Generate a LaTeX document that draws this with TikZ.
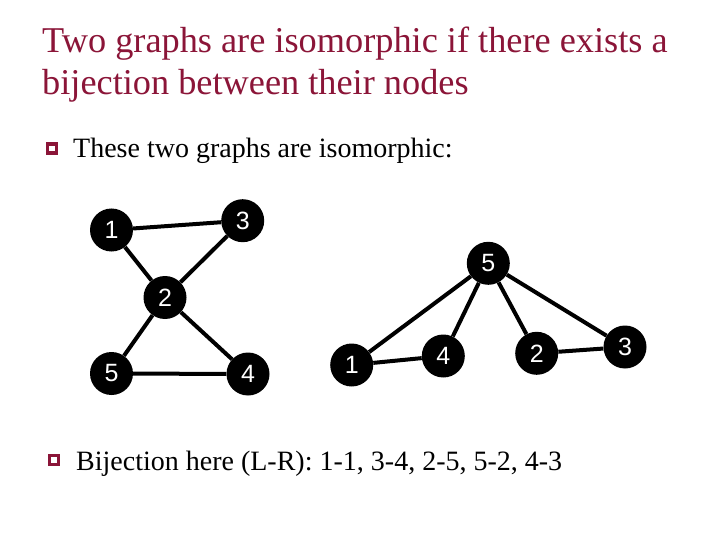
\documentclass[tikz,border=0pt]{standalone}
\usepackage{fontspec}
\setmainfont{Liberation Serif}
\newfontfamily\arialfont{Liberation Sans}
\usetikzlibrary{positioning}
\definecolor{titlered}{HTML}{8B1538}
\tikzset{
  vertex/.style={
    circle,
    fill=black,
    text=white,
    minimum size=43pt,
    inner sep=0pt,
    font=\arialfont\fontsize{25}{25}\selectfont,
  },
  edge/.style={line width=4pt, black},
  title/.style={anchor=base west, inner sep=0pt, text=titlered,
    font=\fontsize{36.3}{36.3}\selectfont},
  bodytext/.style={anchor=base west, inner sep=0pt,
    font=\fontsize{28}{28}\selectfont},
  bulletbox/.style={draw=titlered, line width=3.2pt},
}

\begin{document}
\begin{tikzpicture}[x=1pt, y=-1pt]
\useasboundingbox (0,0) rectangle (720,540);

% Title
\node[title] (t1) at (42,53) {Two graphs are isomorphic if there exists a};
\node[title] (t2) at (42,95) {bijection between their nodes};

% Bullets
\draw[bulletbox] (47.5,144) rectangle (56.5,153);
\node[bodytext] (b1) at (73,158) {These two graphs are isomorphic:};
\draw[bulletbox] (49.5,455.5) rectangle (58.5,464.5);
\node[bodytext] (b2) at (76,470) {Bijection here (L-R): 1-1, 3-4, 2-5, 5-2, 4-3};

% Left graph
\node[vertex] (l1) at (111.5,230) {1};
\node[vertex] (l3) at (242.7,220.7) {3};
\node[vertex] (l2) at (165,297.5) {2};
\node[vertex] (l5) at (111.5,373.5) {5};
\node[vertex] (l4) at (248,374) {4};

% Right graph
\node[vertex] (r5) at (488.3,263.3) {5};
\node[vertex] (r1) at (351.7,365) {1};
\node[vertex] (r4) at (443.3,356) {4};
\node[vertex] (r2) at (536.7,353.3) {2};
\node[vertex] (r3) at (625,347) {3};

% Edges
\foreach \a/\b in {l1/l3, l1/l2, l3/l2, l2/l5, l2/l4, l5/l4,
                   r5/r1, r5/r4, r5/r2, r5/r3, r1/r4, r2/r3}
  {\draw[edge] (\a) -- (\b);}

\end{tikzpicture}
\end{document}
